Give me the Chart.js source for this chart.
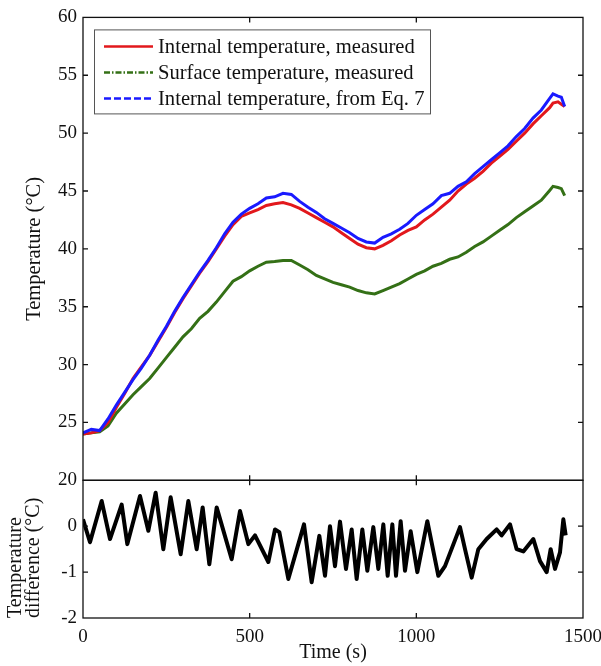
<!DOCTYPE html>
<html>
<head>
<meta charset="utf-8">
<script src="https://cdn.jsdelivr.net/npm/chart.js@4.4.1/dist/chart.umd.min.js"></script>
<style>
  html, body { margin: 0; padding: 0; background: #fff; }
  #wrap { width: 601px; height: 666px; }
</style>
</head>
<body>
<div id="wrap"><canvas id="tempChart" width="601" height="666"></canvas></div>
<script>
// time axis for the temperature curves (s)
const timeTemp = [
  0, 25, 50, 75, 100, 125, 150, 175, 200, 225, 250, 275, 300, 325, 350, 375, 400, 425, 450, 475,
  500, 525, 550, 575, 600, 625, 650, 675, 700, 725, 750, 775, 800, 825, 850, 875, 900, 925, 950, 975,
  1000, 1025, 1050, 1075, 1100, 1125, 1150, 1175, 1200, 1225, 1250, 1275, 1300, 1325, 1350, 1375, 1400,
  1410, 1425, 1435, 1445
];

// Internal temperature, measured
const internalMeasured = [
  24.0, 24.1, 24.3, 25.0, 26.3, 27.5, 28.8, 29.8, 30.8, 32.0, 33.2, 34.5, 35.7, 36.8, 37.9, 38.9, 40.0, 41.1, 42.1, 42.8,
  43.1, 43.4, 43.75, 43.9, 44.0, 43.8, 43.5, 43.1, 42.7, 42.3, 41.9, 41.4, 40.9, 40.4, 40.1, 40.0, 40.3, 40.7, 41.2, 41.6,
  41.9, 42.5, 43.0, 43.6, 44.2, 45.0, 45.6, 46.1, 46.7, 47.4, 48.0, 48.6, 49.3, 50.0, 50.8, 51.5, 52.2,
  52.6, 52.7, 52.5, 52.3
];

// Surface temperature, measured
const surfaceMeasured = [
  24.0, 24.1, 24.2, 24.7, 25.8, 26.6, 27.4, 28.1, 28.8, 29.7, 30.6, 31.5, 32.4, 33.1, 34.0, 34.6, 35.4, 36.3, 37.2, 37.6,
  38.1, 38.5, 38.85, 38.9, 39.0, 39.0, 38.6, 38.2, 37.7, 37.4, 37.1, 36.9, 36.7, 36.4, 36.2, 36.1, 36.4, 36.7, 37.0, 37.4,
  37.8, 38.1, 38.5, 38.75, 39.1, 39.3, 39.7, 40.2, 40.6, 41.1, 41.6, 42.1, 42.7, 43.2, 43.7, 44.2, 45.05,
  45.4, 45.3, 45.2, 44.6
];

// Internal temperature, from Eq. 7
const internalEq7 = [
  24.1, 24.4, 24.3, 25.3, 26.5, 27.6, 28.7, 29.7, 30.8, 32.1, 33.3, 34.6, 35.8, 36.9, 38.0, 39.0, 40.1, 41.3, 42.3, 43.0,
  43.5, 43.9, 44.4, 44.5, 44.8, 44.7, 44.1, 43.6, 43.15, 42.6, 42.2, 41.8, 41.4, 40.9, 40.6, 40.5, 41.0, 41.3, 41.7, 42.2,
  42.9, 43.4, 43.9, 44.6, 44.8, 45.4, 45.8, 46.5, 47.1, 47.7, 48.3, 48.9, 49.7, 50.4, 51.3, 52.0, 53.0,
  53.4, 53.2, 53.1, 52.3
];

// temperature difference (lower panel)
const timeDiff = [
  0, 21, 56, 81, 116, 133, 171, 196, 218, 241, 263, 293, 316, 341, 359, 379, 401, 446, 471, 496,
  516, 556, 576, 589, 616, 663, 686, 709, 726, 741, 756, 771, 789, 806, 821, 838, 853, 871, 886, 901,
  914, 928, 939, 953, 966, 983, 1003, 1033, 1066, 1086, 1131, 1146, 1166, 1186, 1211, 1241, 1256, 1281, 1301, 1321,
  1351, 1371, 1391, 1403, 1416, 1431, 1441, 1448
];
const tempDiff = [
  0.15, -0.35, 0.55, -0.28, 0.47, -0.39, 0.66, -0.1, 0.73, -0.5, 0.63, -0.61, 0.55, -0.5, 0.41, -0.83, 0.41, -0.72, 0.33, -0.39,
  -0.2, -0.78, -0.07, -0.13, -1.15, 0.04, -1.22, -0.21, -1.08, 0, -0.87, 0.1, -0.93, -0.07, -1.15, -0.07, -0.97, -0.02, -0.93, 0.04,
  -1.08, 0.04, -1.08, 0.11, -0.97, -0.11, -1.0, 0.11, -1.08, -0.87, -0.02, -0.5, -1.12, -0.5, -0.28, -0.07, -0.2, 0.04, -0.5, -0.55,
  -0.28, -0.76, -1.0, -0.5, -0.93, -0.57, 0.15, -0.2
];

const seriesLabels = [
  'Internal temperature, measured',
  'Surface temperature, measured',
  'Internal temperature, from Eq. 7'
];
const xTicks = [0, 500, 1000, 1500];

const FONT = '"Liberation Serif", "Times New Roman", serif';

function toPoints(xs, ys) {
  return xs.map((x, i) => ({ x: x, y: ys[i] }));
}

// dash styles used only in the legend samples
const legendDash = [[], [6, 2, 1.5, 2], [7, 3]];

// box frame + inward tick marks on all four sides of each panel
const framePlugin = {
  id: 'frame',
  afterDraw(chart) {
    const ctx = chart.ctx;
    const xs = chart.scales.x;
    const panels = [chart.scales.yT, chart.scales.yB];
    ctx.save();
    ctx.strokeStyle = '#111';
    ctx.lineWidth = 1.3;
    panels.forEach(s => {
      const l = xs.left, r = xs.right, t = s.top, b = s.bottom;
      ctx.strokeRect(l, t, r - l, b - t);
      ctx.beginPath();
      xs.ticks.forEach(tk => {
        if (tk.value > xs.min && tk.value < xs.max) {
          const px = xs.getPixelForValue(tk.value);
          ctx.moveTo(px, t); ctx.lineTo(px, t + 5);
          ctx.moveTo(px, b); ctx.lineTo(px, b - 5);
        }
      });
      s.ticks.forEach(tk => {
        if (tk.value > s.min && tk.value < s.max) {
          const py = s.getPixelForValue(tk.value);
          ctx.moveTo(l, py); ctx.lineTo(l + 5, py);
          ctx.moveTo(r, py); ctx.lineTo(r - 5, py);
        }
      });
      ctx.stroke();
    });
    ctx.restore();
  }
};

// legend box inside the upper panel
const boxLegend = {
  id: 'boxLegend',
  afterDraw(chart) {
    const ctx = chart.ctx;
    const top = chart.scales.yT.top;
    const left = chart.scales.x.left;
    const bx = left + 11, by = top + 12, bw = 336, bh = 84;
    ctx.save();
    ctx.fillStyle = '#fff';
    ctx.fillRect(bx, by, bw, bh);
    ctx.strokeStyle = '#555';
    ctx.lineWidth = 1;
    ctx.strokeRect(bx + 0.5, by + 0.5, bw, bh);
    ctx.font = '20.6px ' + FONT;
    ctx.textBaseline = 'middle';
    ctx.fillStyle = '#111';
    seriesLabels.forEach((txt, i) => {
      const ds = chart.data.datasets[i];
      const y = by + 17 + i * 26;
      ctx.save();
      ctx.strokeStyle = ds.borderColor;
      ctx.lineWidth = 2.5;
      ctx.setLineDash(legendDash[i]);
      ctx.beginPath();
      ctx.moveTo(bx + 10, y);
      ctx.lineTo(bx + 59, y);
      ctx.stroke();
      ctx.restore();
      ctx.fillText(txt, bx + 64, y + 1);
    });
    ctx.restore();
  }
};

new Chart(document.getElementById('tempChart'), {
  type: 'line',
  data: {
    datasets: [
      {
        label: seriesLabels[0],
        data: toPoints(timeTemp, internalMeasured),
        borderColor: 'rgb(226, 24, 28)',
        borderWidth: 3,
        pointRadius: 0,
        yAxisID: 'yT',
        order: 2
      },
      {
        label: seriesLabels[1],
        data: toPoints(timeTemp, surfaceMeasured),
        borderColor: 'rgb(52, 112, 22)',
        borderWidth: 3,
        pointRadius: 0,
        yAxisID: 'yT',
        order: 3
      },
      {
        label: seriesLabels[2],
        data: toPoints(timeTemp, internalEq7),
        borderColor: 'rgb(26, 26, 255)',
        borderWidth: 3,
        pointRadius: 0,
        yAxisID: 'yT',
        order: 1
      },
      {
        label: 'Temperature difference',
        data: toPoints(timeDiff, tempDiff),
        borderColor: '#000',
        borderWidth: 4,
        borderJoinStyle: 'round',
        pointRadius: 0,
        yAxisID: 'yB',
        order: 0
      }
    ]
  },
  options: {
    responsive: false,
    animation: false,
    events: [],
    layout: { padding: { left: 0, top: 16, right: 18, bottom: 0 } },
    plugins: {
      legend: { display: false },
      tooltip: { enabled: false }
    },
    scales: {
      x: {
        type: 'linear',
        position: 'bottom',
        min: 0,
        max: 1500,
        afterBuildTicks: s => { s.ticks = xTicks.map(v => ({ value: v })); },
        ticks: {
          color: '#111',
          padding: 8,
          font: { family: FONT, size: 19 },
          maxRotation: 0,
          autoSkip: false,
          callback: v => String(v)
        },
        grid: { display: false, drawTicks: false },
        border: { display: false },
        title: { display: true, text: 'Time (s)', color: '#111', font: { family: FONT, size: 20 }, padding: { top: 0, bottom: 1 } },
        afterFit: s => { s.height = 48; s.paddingLeft = 0; s.paddingRight = 0; }
      },
      yB: {
        type: 'linear',
        position: 'left',
        stack: 'panels',
        stackWeight: 138,
        min: -2,
        max: 1,
        ticks: {
          stepSize: 1,
          autoSkip: false,
          color: '#111',
          padding: 6,
          font: { family: FONT, size: 19 },
          callback: v => (v === 1 ? '' : String(v))
        },
        grid: { display: false, drawTicks: false },
        border: { display: false },
        title: {
          display: true,
          text: ['Temperature', 'difference (°C)'],
          align: 'start',
          color: '#111',
          font: { family: FONT, size: 20, lineHeight: 0.9 },
          padding: { top: 7, bottom: 0 }
        },
        afterFit: s => { s.width = 83; }
      },
      yT: {
        type: 'linear',
        position: 'left',
        stack: 'panels',
        stackWeight: 464,
        min: 20,
        max: 60,
        ticks: { stepSize: 5, autoSkip: false, color: '#111', padding: 6, font: { family: FONT, size: 19 } },
        grid: { display: false, drawTicks: false },
        border: { display: false },
        title: {
          display: true,
          text: 'Temperature (°C)',
          color: '#111',
          font: { family: FONT, size: 20.5 },
          padding: { top: 22, bottom: 0 }
        },
        afterFit: s => { s.width = 83; }
      }
    }
  },
  plugins: [framePlugin, boxLegend]
});
</script>
</body>
</html>
